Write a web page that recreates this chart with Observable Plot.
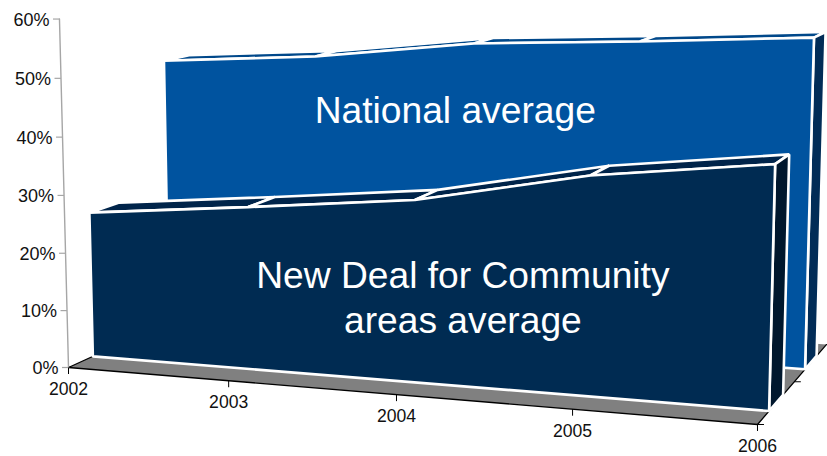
<!DOCTYPE html>
<html>
<head>
<meta charset="utf-8">
<script src="https://cdn.jsdelivr.net/npm/d3@7"></script>
<script src="https://cdn.jsdelivr.net/npm/@observablehq/plot@0.6"></script>
<style>
  html, body { margin: 0; padding: 0; background: #fff; }
  svg { display: block; }
</style>
</head>
<body>
<div id="chart"></div>
<script>
// Share of residents, by year, for two series shown as a 3D area chart.
const years = [2002, 2003, 2004, 2005, 2006];
const percentTicks = [0, 10, 20, 30, 40, 50, 60];
const nationalAverage = [49.1, 50.9, 54.2, 55.5, 57.1];
const ndcAverage = [25.6, 28.2, 31.0, 36.6, 39.9];

// Depth slots on the chart's third axis (0 = front edge of floor, 1 = back edge).
const ndcDepth = [0.15, 0.34];
const nationalDepth = [0.66, 0.84];
const depthTicks = [0, 0.5, 1];

const colors = {
  floor: "#808080",
  axis: "#a6a6a6",
  nationalFront: "#00539f",
  nationalTop: "#00488a",
  nationalSide: "#012c57",
  ndcFront: "#002b52",
  ndcTop: "#00244a",
  ndcSide: "#00172d"
};

// Perspective camera: year index, value fraction and depth to the plot plane.
function project(year, value, depth) {
  const t = year - years[0], w = value / 60, z = depth;
  const d = 1 - 0.02285 * t - 0.0244 * w + 0.136 * z;
  return [
    (68 + 154.95 * t - 10.47 * w + 174.9 * z) / d,
    (367 + 4.56 * t - 348.9 * w - 25.8 * z) / d
  ];
}
const px = (y, v, z) => project(y, v, z)[0];
const py = (y, v, z) => project(y, v, z)[1];

// Builds polygon vertices for each visible face of one series.
function seriesFaces(name, values, [zFront, zBack], front, top, side) {
  const faces = [];
  const last = years.length - 1;
  const add = (id, fill, corners) => corners.forEach(([y, v, z]) =>
    faces.push({id: name + id, fill, x: px(y, v, z), y: py(y, v, z)}));
  for (let i = 0; i < last; ++i) {
    add("top" + i, top, [
      [years[i], values[i], zFront], [years[i + 1], values[i + 1], zFront],
      [years[i + 1], values[i + 1], zBack], [years[i], values[i], zBack]
    ]);
  }
  add("side", side, [
    [years[last], 0, zFront], [years[last], values[last], zFront],
    [years[last], values[last], zBack], [years[last], 0, zBack]
  ]);
  add("front", front, [
    [years[0], 0, zFront],
    ...years.map((y, i) => [y, values[i], zFront]),
    [years[last], 0, zFront]
  ]);
  return faces;
}

const y0 = years[0], y1 = years[years.length - 1];
const floor = [[y0, 0], [y1, 0], [y1, 1], [y0, 1]].map(([y, z]) => ({x: px(y, 0, z), y: py(y, 0, z)}));
const floorEdge = [[y0, 1], [y0, 0], [y1, 0], [y1, 1]].map(([y, z]) => ({x: px(y, 0, z), y: py(y, 0, z)}));
const wallEdge = [0, 60].map((v) => ({x: px(y0, v, 0), y: py(y0, v, 0)}));

const nationalFaces = seriesFaces("national", nationalAverage, nationalDepth,
  colors.nationalFront, colors.nationalTop, colors.nationalSide);
const ndcFaces = seriesFaces("ndc", ndcAverage, ndcDepth,
  colors.ndcFront, colors.ndcTop, colors.ndcSide);

const seriesLabels = [
  {text: "National average", year: 2003.885, value: 42.55, depth: nationalDepth[0]},
  {text: "New Deal for Community\nareas average", year: 2004.28, value: 15.3, depth: ndcDepth[0]}
];

const tickLength = 6.5;
const faceMark = (faces) => Plot.line(faces, {
  x: "x", y: "y", z: "id", fill: "fill", stroke: "#fff", strokeWidth: 2.6,
  curve: "linear-closed", strokeLinejoin: "miter"
});

const plot = Plot.plot({
  width: 827,
  height: 456,
  margin: 0,
  x: {domain: [0, 827], range: [0, 827], axis: null},
  y: {domain: [0, 456], range: [0, 456], axis: null},
  style: {background: "transparent", fontFamily: "'Liberation Sans', Arial, sans-serif"},
  marks: [
    // floor and axes
    Plot.line(floor, {x: "x", y: "y", fill: colors.floor, stroke: "none", curve: "linear-closed"}),
    Plot.line(floorEdge, {x: "x", y: "y", stroke: "#000", strokeWidth: 1.3}),
    Plot.line(wallEdge, {x: "x", y: "y", stroke: colors.axis, strokeWidth: 1.4}),
    Plot.link(percentTicks, {
      x1: (v) => px(y0, v, 0), y1: (v) => py(y0, v, 0),
      x2: (v) => px(y0, v, 0) - tickLength, y2: (v) => py(y0, v, 0),
      stroke: colors.axis, strokeWidth: 1.2
    }),
    Plot.link(years, {
      x1: (y) => px(y, 0, 0), y1: (y) => py(y, 0, 0),
      x2: (y) => px(y, 0, 0), y2: (y) => py(y, 0, 0) + tickLength,
      stroke: "#000", strokeWidth: 1
    }),
    Plot.link(depthTicks, {
      x1: (z) => px(y1, 0, z), y1: (z) => py(y1, 0, z),
      x2: (z) => px(y1, 0, z) + tickLength, y2: (z) => py(y1, 0, z),
      stroke: "#000", strokeWidth: 1
    }),
    Plot.text(percentTicks, {
      x: (v) => px(y0, v, 0), y: (v) => py(y0, v, 0), text: (v) => `${v}%`,
      textAnchor: "end", dx: -10, dy: 1, fontSize: 18, fill: "#111"
    }),
    Plot.text(years, {
      x: (y) => px(y, 0, 0), y: (y) => py(y, 0, 0), text: (y) => String(y),
      dy: 22, fontSize: 17.6, fill: "#111"
    }),

    // series, far one first
    faceMark(nationalFaces),
    faceMark(ndcFaces),

    // labels sit on the front face of each series
    Plot.text(seriesLabels, {
      x: (d) => px(d.year, d.value, d.depth), y: (d) => py(d.year, d.value, d.depth),
      text: "text", fontSize: 37.2, lineHeight: 1.19, fill: "#fff"
    })
  ]
});
document.getElementById("chart").append(plot);
</script>
</body>
</html>
